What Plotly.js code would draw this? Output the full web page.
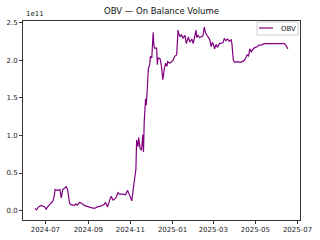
<!DOCTYPE html>
<html>
<head>
<meta charset="utf-8">
<script src="https://cdn.plot.ly/plotly-3.0.1.min.js"></script>
<style>html,body{margin:0;padding:0;background:#fff;}#chart{width:320px;height:240px;}</style>
</head>
<body>
<div id="chart"></div>
<script>
const dates = [
"2024-06-16","2024-06-18","2024-06-21","2024-06-25","2024-06-30","2024-07-02","2024-07-05","2024-07-09","2024-07-12","2024-07-14",
"2024-07-15","2024-07-19","2024-07-22","2024-07-24","2024-07-26","2024-07-29","2024-07-31","2024-08-02","2024-08-05","2024-08-07",
"2024-08-12","2024-08-14","2024-08-16","2024-08-19","2024-08-22","2024-08-26","2024-08-31","2024-09-05","2024-09-10","2024-09-14",
"2024-09-19","2024-09-24","2024-09-26","2024-09-29","2024-10-02","2024-10-04","2024-10-07","2024-10-09","2024-10-11","2024-10-14",
"2024-10-16","2024-10-21","2024-10-25","2024-10-28","2024-10-31","2024-11-03","2024-11-05","2024-11-07","2024-11-09","2024-11-10",
"2024-11-12","2024-11-13","2024-11-15","2024-11-17","2024-11-18","2024-11-19","2024-11-20","2024-11-21","2024-11-23","2024-11-24",
"2024-11-25","2024-11-27","2024-11-29","2024-11-30","2024-12-02","2024-12-03","2024-12-04","2024-12-05","2024-12-06","2024-12-09",
"2024-12-10","2024-12-11","2024-12-14","2024-12-16","2024-12-18","2024-12-20","2024-12-22","2024-12-24","2024-12-25","2024-12-28",
"2024-12-30","2025-01-02","2025-01-04","2025-01-07","2025-01-09","2025-01-10","2025-01-12","2025-01-14","2025-01-16","2025-01-19",
"2025-01-21","2025-01-24","2025-01-26","2025-01-29","2025-01-31","2025-02-02","2025-02-04","2025-02-05","2025-02-07","2025-02-09",
"2025-02-12","2025-02-14","2025-02-16","2025-02-18","2025-02-20","2025-02-22","2025-02-24","2025-02-26","2025-02-28","2025-03-03",
"2025-03-05","2025-03-07","2025-03-10","2025-03-15","2025-03-17","2025-03-19","2025-03-22","2025-03-24","2025-03-27","2025-03-28",
"2025-03-30","2025-04-01","2025-04-05","2025-04-09","2025-04-14","2025-04-16","2025-04-19","2025-04-21","2025-04-23","2025-04-25",
"2025-04-29","2025-05-04","2025-05-06","2025-05-09","2025-05-11","2025-05-14","2025-05-19","2025-05-24","2025-05-28","2025-06-02",
"2025-06-07","2025-06-10","2025-06-12","2025-06-14","2025-06-17"
];
const obv = [
0.03,0.01,0.05,0.07,0.05,0.02,0.06,0.10,0.13,0.21,
0.28,0.27,0.28,0.17,0.28,0.30,0.32,0.28,0.10,0.08,
0.07,0.09,0.07,0.11,0.10,0.07,0.05,0.04,0.03,0.05,
0.06,0.08,0.11,0.05,0.14,0.19,0.14,0.16,0.17,0.24,
0.22,0.22,0.21,0.27,0.20,0.13,0.28,0.41,0.55,0.94,
0.85,0.97,0.83,0.80,0.95,1.01,0.78,1.18,1.49,1.40,
1.54,1.89,1.94,2.05,2.03,2.36,2.37,2.20,2.16,2.16,
1.94,2.03,2.02,1.92,1.74,1.88,1.96,1.92,1.98,1.96,
1.98,2.00,2.05,2.07,2.40,2.35,2.31,2.34,2.29,2.33,
2.22,2.31,2.24,2.28,2.22,2.31,2.40,2.30,2.33,2.30,
2.31,2.32,2.44,2.36,2.33,2.29,2.27,2.18,2.24,2.15,
2.21,2.17,2.22,2.23,2.29,2.26,2.28,2.25,2.27,2.22,
2.00,1.97,1.98,1.97,1.99,2.01,2.07,2.05,2.15,2.11,
2.16,2.18,2.20,2.20,2.21,2.22,2.22,2.22,2.22,2.22,
2.23,2.23,2.22,2.20,2.15
].map(v => v * 1e11);
const yTickVals = [0, 0.5e11, 1.0e11, 1.5e11, 2.0e11, 2.5e11];
const yTickText = ["0.0", "0.5", "1.0", "1.5", "2.0", "2.5"];
const xTickVals = ["2024-07-01","2024-09-01","2024-11-01","2025-01-01","2025-03-01","2025-05-01","2025-07-01"];
const xTickText = ["2024-07","2024-09","2024-11","2025-01","2025-03","2025-05","2025-07"];
const seriesName = "OBV";
const titleText = "OBV — On Balance Volume";

const W = 320, H = 240, L = 23, R = 20, T = 21, B = 20;
const px = x => (x - L) / (W - L - R);
const py = y => (H - B - y) / (H - T - B);
const FONT = "DejaVu Sans, sans-serif";
const color = "#800080";

const trace = {
  x: dates, y: obv, type: "scatter", mode: "lines", name: seriesName,
  line: {color: color, width: 1.2}, showlegend: false, hoverinfo: "skip"
};

const layout = {
  width: W, height: H,
  margin: {l: L, r: R, t: T, b: B, pad: 0},
  paper_bgcolor: "#fff", plot_bgcolor: "#fff",
  font: {family: FONT, size: 7, color: "#222"},
  title: {text: titleText, font: {family: FONT, size: 8.5, color: "#111"},
          x: 0.5, xref: "paper", y: 1 - 11/H, yref: "container", xanchor: "center", yanchor: "middle"},
  xaxis: {
    type: "date", range: ["2024-05-29 12:00", "2025-07-04 14:00"],
    tickvals: xTickVals, ticktext: xTickText,
    showgrid: false, zeroline: false, showline: true, mirror: true,
    linecolor: "#333", linewidth: 1, ticks: "outside", ticklen: 3, tickcolor: "#333",
    tickfont: {family: FONT, size: 7, color: "#222"}
  },
  yaxis: {
    range: [-0.124e11, 2.52e11],
    tickvals: yTickVals, ticktext: yTickText,
    showgrid: false, zeroline: false, showline: true, mirror: true,
    linecolor: "#333", linewidth: 1, ticks: "outside", ticklen: 3, tickcolor: "#333",
    tickfont: {family: FONT, size: 7, color: "#222"}
  },
  shapes: [
    {type: "rect", xref: "paper", yref: "paper", x0: px(257), x1: px(298), y0: py(35), y1: py(22),
     line: {color: "#d0d0d0", width: 1}, fillcolor: "rgba(255,255,255,0.8)"},
    {type: "line", xref: "paper", yref: "paper", x0: px(259), x1: px(273), y0: py(28), y1: py(28),
     line: {color: color, width: 1.2}}
  ],
  annotations: [
    {text: seriesName, xref: "paper", yref: "paper", x: px(279), y: py(28.5), xanchor: "left", yanchor: "middle",
     showarrow: false, font: {family: FONT, size: 7, color: "#222"}},
    {text: "1e11", xref: "paper", yref: "paper", x: px(24), y: py(14), xanchor: "left", yanchor: "middle",
     showarrow: false, font: {family: FONT, size: 7, color: "#222"}}
  ]
};

Plotly.newPlot("chart", [trace], layout, {staticPlot: true, displayModeBar: false});
</script>
</body>
</html>
